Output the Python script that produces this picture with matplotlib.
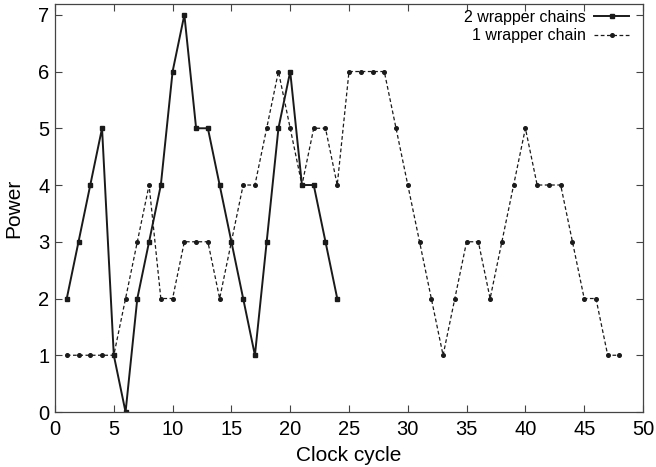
import matplotlib
matplotlib.use("Agg")
import matplotlib.pyplot as plt
import numpy as np

plt.rcParams['font.family'] = ['Liberation Sans', 'DejaVu Sans']

cycles_two = np.arange(1, 25)
power_two = [2, 3, 4, 5, 1, 0, 2, 3, 4, 6, 7, 5, 5, 4, 3, 2, 1, 3, 5, 6, 4, 4, 3, 2]

cycles_one = np.arange(1, 49)
power_one = [1, 1, 1, 1, 1, 2, 3, 4, 2, 2, 3, 3, 3, 2, 3, 4, 4, 5, 6, 5, 4, 5, 5, 4,
             6, 6, 6, 6, 5, 4, 3, 2, 1, 2, 3, 3, 2, 3, 4, 5, 4, 4, 4, 3, 2, 2, 1, 1]

fig = plt.figure(figsize=(6.56, 4.67), dpi=100)
ax = fig.add_axes([55/656, 55/467, 588/656, 408/467])

ax.plot(cycles_two, power_two, color='#1a1a1a', lw=1.4, marker='s', ms=3,
        label='2 wrapper chains')
ax.plot(cycles_one, power_one, color='#1a1a1a', lw=0.9, ls=(0, (3, 2)), marker='o', ms=2.6,
        label='1 wrapper chain')

ax.set_xlim(0, 50)
ax.set_ylim(0, 7.19)
ax.set_xticks(np.arange(0, 51, 5))
ax.set_yticks(np.arange(0, 8, 1))
ax.tick_params(direction='in', top=True, right=True, length=5, width=0.8,
               labelsize=14.5, color='#444444')
ax.tick_params(axis='x', pad=6)
ax.tick_params(axis='y', pad=4)
for s in ax.spines.values():
    s.set_color('#444444')
    s.set_linewidth(0.9)

ax.set_xlabel('Clock cycle', fontsize=15, labelpad=5)
ax.set_ylabel('Power', fontsize=15, labelpad=11)

ax.legend(loc='upper right', bbox_to_anchor=(0.993, 1.009), frameon=False,
          markerfirst=False, fontsize=11.5, handlelength=2.2, borderaxespad=0.5,
          borderpad=0.1, labelspacing=0.2, handletextpad=0.5)

fig.savefig('out.png', dpi=100)
